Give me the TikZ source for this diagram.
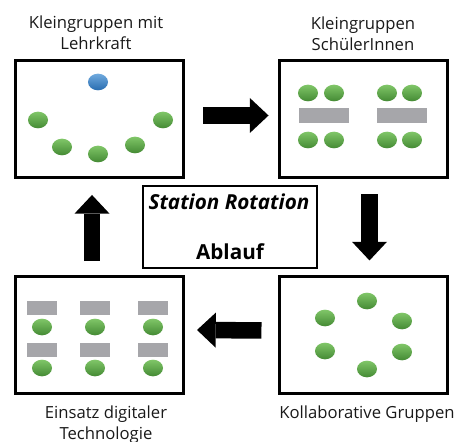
\documentclass[tikz,border=0pt]{standalone}
\usepackage{fontspec}
\setmainfont{Open Sans}
\usetikzlibrary{shapes.geometric,arrows.meta}

\definecolor{dotgreenA}{RGB}{128,198,104}
\definecolor{dotgreenB}{RGB}{68,138,52}
\definecolor{dotblueA}{RGB}{112,170,222}
\definecolor{dotblueB}{RGB}{40,108,176}
\definecolor{deskgray}{RGB}{166,166,170}

\tikzset{
  panel/.style={draw=black, line width=2.25pt, minimum width=126pt, minimum height=87.75pt, inner sep=0pt},
  titlebox/.style={draw=black, line width=1.5pt, minimum width=130.5pt, minimum height=61.5pt, inner sep=0pt},
  pupil/.style={ellipse, minimum width=15pt, minimum height=12.5pt, inner sep=0pt, top color=dotgreenA, bottom color=dotgreenB},
  teacher/.style={ellipse, minimum width=15pt, minimum height=12.5pt, inner sep=0pt, top color=dotblueA, bottom color=dotblueB},
  bigdesk/.style={fill=deskgray, minimum width=37.5pt, minimum height=11.25pt, inner sep=0pt},
  smalldesk/.style={fill=deskgray, minimum width=22.5pt, minimum height=10.5pt, inner sep=0pt},
  caption/.style={align=center, text=black!90, font=\fontsize{12.5}{15.5}\selectfont},
  blockarrow/.style={line width=12.4pt, -{Triangle[width=26.25pt, length=14pt, line width=0pt]}}
}

\begin{document}
\begin{tikzpicture}[x=0.75pt,y=0.75pt,yscale=-1]
\useasboundingbox (0,0) rectangle (457,442);

% Panels
\node (lehrkraft) [panel] at (99,119.5) {};
\node (schueler) [panel] at (363.5,119.5) {};
\node (digital) [panel] at (99,334.5) {};
\node (kollab) [panel] at (363.5,335) {};
\node (ablauf) [titlebox] at (230,227) {};

% Captions
\node (capA) [caption] at (96,33) {Kleingruppen mit\\Lehrkraft};
\node (capB) [caption] at (363,34) {Kleingruppen\\SchülerInnen};
\node (capC) [caption] at (106,425) {Einsatz digitaler\\Technologie};
\node (capD) [caption] at (367,414) {Kollaborative Gruppen};

% Title text
\node (titleA) at (229,202) {\fontsize{15.5}{18}\selectfont\bfseries\itshape Station Rotation};
\node (titleB) at (230,252) {\fontsize{15.5}{18}\selectfont\bfseries Ablauf};

% Kleingruppen mit Lehrkraft
\node (t1) [teacher] at (98,82) {};
\node (a1) [pupil] at (38,120) {};
\node (a2) [pupil] at (62,147) {};
\node (a3) [pupil] at (98,154) {};
\node (a4) [pupil] at (135,145) {};
\node (a5) [pupil] at (163,120) {};

% Kleingruppen SchuelerInnen
\node (d1) [bigdesk] at (324,115.5) {};
\node (d2) [bigdesk] at (402,115.5) {};
\node (b1) [pupil] at (308,93) {};
\node (b2) [pupil] at (334,93) {};
\node (b3) [pupil] at (387,93) {};
\node (b4) [pupil] at (412,93) {};
\node (b5) [pupil] at (308,140) {};
\node (b6) [pupil] at (334,140) {};
\node (b7) [pupil] at (387,140) {};
\node (b8) [pupil] at (412,140) {};

% Kollaborative Gruppen
\node (c1) [pupil] at (367,301) {};
\node (c2) [pupil] at (325,318) {};
\node (c3) [pupil] at (402,321) {};
\node (c4) [pupil] at (325,351) {};
\node (c5) [pupil] at (402,352) {};
\node (c6) [pupil] at (367,369) {};

% Einsatz digitaler Technologie
\node (e1) [smalldesk] at (42,308) {};
\node (e2) [smalldesk] at (95,308) {};
\node (e3) [smalldesk] at (153,308) {};
\node (e4) [smalldesk] at (42,350) {};
\node (e5) [smalldesk] at (95,350) {};
\node (e6) [smalldesk] at (153,350) {};
\node (f1) [pupil] at (42,327) {};
\node (f2) [pupil] at (95,327) {};
\node (f3) [pupil] at (153,327) {};
\node (f4) [pupil] at (42,368) {};
\node (f5) [pupil] at (95,368) {};
\node (f6) [pupil] at (153,368) {};

% Rotation arrows (shifts follow the flipped y axis)
\draw [blockarrow] ([xshift=13.9pt,yshift=-3pt]lehrkraft.east) -- ([xshift=-7.1pt,yshift=-3pt]schueler.west);
\draw [blockarrow] ([xshift=4.5pt,yshift=10.9pt]schueler.south) -- ([xshift=4.5pt,yshift=-10.9pt]kollab.north);
\draw [blockarrow] ([xshift=-12.4pt,yshift=-3.4pt]kollab.west) -- ([xshift=9.4pt,yshift=-3.4pt]digital.east);
\draw [blockarrow] ([xshift=-5.25pt,yshift=-10.1pt]digital.north) -- ([xshift=-5.25pt,yshift=11.6pt]lehrkraft.south);

\end{tikzpicture}
\end{document}
